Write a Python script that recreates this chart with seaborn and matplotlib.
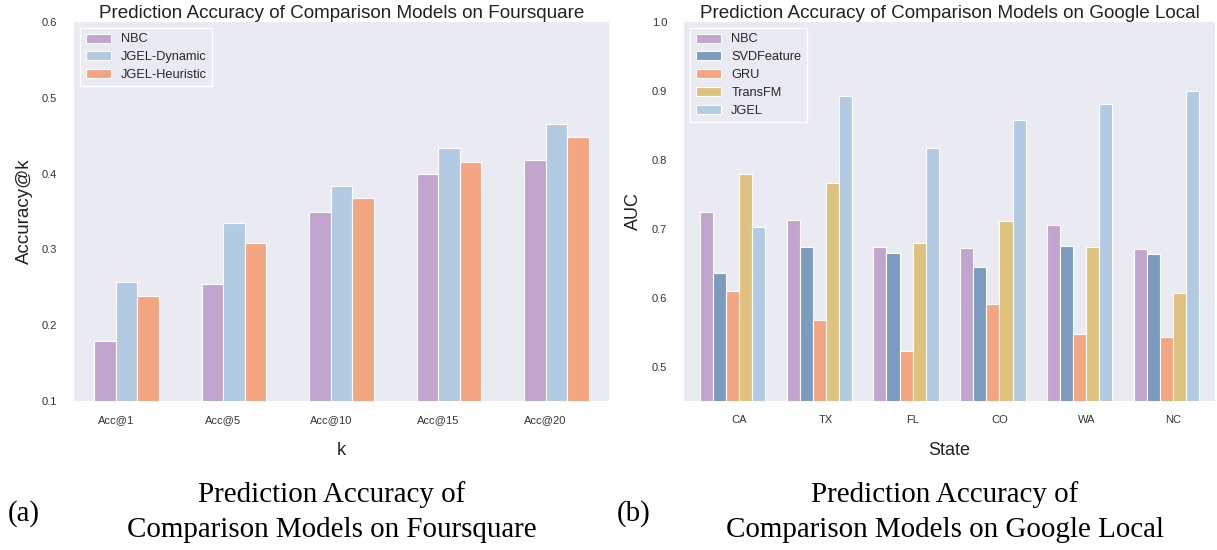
import numpy as np
import pandas as pd
import matplotlib
matplotlib.use("Agg")
import matplotlib.pyplot as plt
import seaborn as sns

# ---------------- data ----------------
fs_k = ["Acc@1", "Acc@5", "Acc@10", "Acc@15", "Acc@20"]
fs_models = ["NBC", "JGEL-Dynamic", "JGEL-Heuristic"]
fs_nbc = [0.179, 0.254, 0.349, 0.400, 0.418]
fs_dynamic = [0.257, 0.335, 0.383, 0.434, 0.465]
fs_heuristic = [0.239, 0.308, 0.368, 0.415, 0.448]

gl_states = ["CA", "TX", "FL", "CO", "WA", "NC"]
gl_models = ["NBC", "SVDFeature", "GRU", "TransFM", "JGEL"]
gl_nbc = [0.725, 0.713, 0.673, 0.672, 0.705, 0.670]
gl_svdfeature = [0.636, 0.674, 0.665, 0.645, 0.675, 0.664]
gl_gru = [0.609, 0.567, 0.522, 0.591, 0.547, 0.543]
gl_transfm = [0.779, 0.766, 0.680, 0.711, 0.673, 0.607]
gl_jgel = [0.702, 0.892, 0.817, 0.858, 0.881, 0.900]

fs_yticks = [0.1, 0.2, 0.3, 0.4, 0.5, 0.6]
gl_yticks = [0.5, 0.6, 0.7, 0.8, 0.9, 1.0]

C_NBC = "#C2A5CF"
C_LBLUE = "#B3CBE2"
C_ORANGE = "#F4A582"
C_DBLUE = "#7B9BBF"
C_GOLD = "#DFC27D"

# ---------------- style ----------------
sns.set_style("dark")
plt.rcParams["font.family"] = ["Liberation Sans", "DejaVu Sans"]

fig = plt.figure(figsize=(12.17, 5.5), dpi=100)
ax1 = fig.add_axes([74 / 1217, 1 - 401 / 550, 535 / 1217, 379 / 550])
ax2 = fig.add_axes([684 / 1217, 1 - 401 / 550, 531 / 1217, 379 / 550])

fs_df = pd.DataFrame({
    "k": fs_k * 3,
    "model": sum([[m] * len(fs_k) for m in fs_models], []),
    "value": fs_nbc + fs_dynamic + fs_heuristic,
})
gl_df = pd.DataFrame({
    "state": gl_states * 5,
    "model": sum([[m] * len(gl_states) for m in gl_models], []),
    "value": gl_nbc + gl_svdfeature + gl_gru + gl_transfm + gl_jgel,
})

sns.barplot(data=fs_df, x="k", y="value", hue="model", order=fs_k,
            hue_order=fs_models, palette=[C_NBC, C_LBLUE, C_ORANGE],
            width=0.6, saturation=1, edgecolor="white", linewidth=0.8,
            ax=ax1)
sns.barplot(data=gl_df, x="state", y="value", hue="model", order=gl_states,
            hue_order=gl_models,
            palette=[C_NBC, C_DBLUE, C_ORANGE, C_GOLD, C_LBLUE],
            width=0.75, saturation=1, edgecolor="white", linewidth=0.8,
            ax=ax2)

tick_color = "#333333"
label_color = "#222222"

# left axes
ax1.set_ylim(0.1, 0.6)
ax1.set_xlim(-0.49, 4.49)
ax1.set_yticks(fs_yticks)
ax1.set_yticklabels([f"{v:.1f}" for v in fs_yticks])
ax1.set_xticks(np.arange(len(fs_k)) - 0.1)
ax1.set_xticklabels(fs_k)
ax1.set_xlabel("k", fontsize=13, color=label_color, labelpad=12)
ax1.set_ylabel("Accuracy@k", fontsize=13.5, color=label_color, labelpad=6.5)
ax1.set_title("Prediction Accuracy of Comparison Models on Foursquare",
              fontsize=13.6, color=label_color, pad=3)

# right axes
ax2.set_ylim(0.45, 1.0)
ax2.set_xlim(-0.555, 5.555)
ax2.set_yticks(gl_yticks)
ax2.set_yticklabels([f"{v:.1f}" for v in gl_yticks])
ax2.set_xticks(np.arange(len(gl_states)) + 0.075)
ax2.set_xticklabels(gl_states)
ax2.set_xlabel("State", fontsize=13, color=label_color, labelpad=12)
ax2.set_ylabel("AUC", fontsize=13, color=label_color, labelpad=7.5)
ax2.set_title("Prediction Accuracy of Comparison Models on Google Local",
              fontsize=13.6, color=label_color, pad=3)

for ax in (ax1, ax2):
    ax.tick_params(axis="x", labelsize=8, colors=tick_color, length=0, pad=10)
    ax.tick_params(axis="y", labelsize=8, colors=tick_color, length=0, pad=12)
    for s in ax.spines.values():
        s.set_visible(False)
    h, l = ax.get_legend_handles_labels()
    ax.legend(h, l, loc="upper left", fontsize=9.2, facecolor="#EAEAF2",
              edgecolor="white", framealpha=1, fancybox=False,
              labelspacing=0.45)

# captions
cap_font = dict(family=["Liberation Serif", "DejaVu Serif"], fontsize=20.9,
                color="black")
fig.text(8 / 1217, 1 - 514 / 550, "(a)", ha="left", va="center", **cap_font)
fig.text(332 / 1217, 1 - 512 / 550,
         "Prediction Accuracy of\nComparison Models on Foursquare",
         ha="center", va="center", linespacing=1.45, **cap_font)
fig.text(617 / 1217, 1 - 514 / 550, "(b)", ha="left", va="center", **cap_font)
fig.text(945 / 1217, 1 - 512 / 550,
         "Prediction Accuracy of\nComparison Models on Google Local",
         ha="center", va="center", linespacing=1.45, **cap_font)

fig.savefig("out.png", dpi=100, facecolor="white")
